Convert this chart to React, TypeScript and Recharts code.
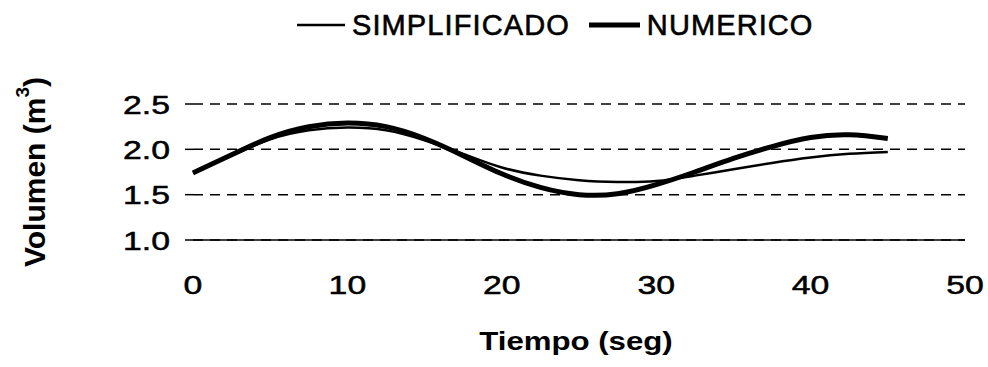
import { LineChart, Line, XAxis, YAxis, CartesianGrid, Legend, Label } from "recharts";

const tiempo = [0, 2.5, 5, 7.5, 10, 12.5, 15, 17.5, 20, 22.5, 25, 27.5, 30, 32.5, 35, 37.5, 40, 42.5, 45];
const simplificado = [1.74, 1.93, 2.11, 2.21, 2.24, 2.21, 2.1, 1.95, 1.8, 1.71, 1.66, 1.64, 1.65, 1.71, 1.78, 1.85, 1.91, 1.95, 1.97];
const numerico = [1.74, 1.94, 2.13, 2.25, 2.29, 2.25, 2.12, 1.93, 1.73, 1.58, 1.5, 1.51, 1.61, 1.75, 1.9, 2.03, 2.13, 2.16, 2.12];
const xTicks = [0, 10, 20, 30, 40, 50];
const yTicks = [1.0, 1.5, 2.0, 2.5];

const data = tiempo.map((t, i) => ({ t, simplificado: simplificado[i], numerico: numerico[i] }));

const FONT = "'Liberation Sans', Arial, sans-serif";

const XTick = ({ x, y, payload }: any) => (
  <g transform={`translate(${x},${y})`}>
    <text x={0} y={0} dy={54} textAnchor="middle" fontSize={26} fill="#000" stroke="#000" strokeWidth={0.5} fontFamily={FONT} transform="scale(1.3,1)">
      {payload.value}
    </text>
  </g>
);

const YTick = ({ x, y, payload }: any) => (
  <g transform={`translate(${x},${y})`}>
    <text x={0} y={0} dy={9.5} textAnchor="end" fontSize={26} fill="#000" stroke="#000" strokeWidth={0.5} fontFamily={FONT} transform="scale(1.3,1)">
      {Number(payload.value).toFixed(1)}
    </text>
  </g>
);

const LegendBox = () => (
  <div style={{ display: "flex", alignItems: "center", height: 50, paddingLeft: 297, fontFamily: FONT, fontSize: 29, letterSpacing: 1.1, color: "#000", lineHeight: "29px", WebkitTextStroke: "0.6px #000" }}>
    <svg width={48} height={10}><line x1={0} y1={5} x2={48} y2={5} stroke="#000" strokeWidth={2.5} /></svg>
    <span style={{ marginLeft: 7 }}>SIMPLIFICADO</span>
    <svg width={51} height={10} style={{ marginLeft: 19 }}><line x1={0} y1={5} x2={51} y2={5} stroke="#000" strokeWidth={5} /></svg>
    <span style={{ marginLeft: 7 }}>NUMERICO</span>
  </div>
);

const YTitle = ({ viewBox }: any) => {
  const cx = 34;
  const cy = viewBox.y + viewBox.height / 2;
  return (
    <text x={cx} y={cy} transform={`rotate(-90 ${cx} ${cy})`} textAnchor="middle" dominantBaseline="central" fontSize={30} fontWeight="bold" fontFamily={FONT} fill="#000">
      Volumen (m<tspan dy={-12} fontSize={19}>3</tspan><tspan dy={12}>)</tspan>
    </text>
  );
};

const XTitle = ({ viewBox }: any) => {
  const cx = viewBox.x + viewBox.width / 2 - 3;
  const by = viewBox.y + 110;
  return (
    <g transform={`translate(${cx},${by})`}>
      <text x={0} y={0} textAnchor="middle" fontSize={26} fontWeight="bold" fontFamily={FONT} fill="#000" transform="scale(1.2,1)">
        Tiempo (seg)
      </text>
    </g>
  );
};

export default function App() {
  return (
    <div style={{ position: "absolute", left: 0, top: 0, background: "#fff" }}>
      <LineChart width={988} height={367} data={data} margin={{ top: 104, right: 23, left: 0, bottom: 0 }}>
        <CartesianGrid horizontal vertical={false} stroke="#000" strokeWidth={1.5} strokeDasharray="10 7" />
        <XAxis
          dataKey="t"
          type="number"
          domain={[0, 50]}
          ticks={xTicks}
          height={127}
          tickSize={0}
          tickMargin={0}
          tickLine={false}
          axisLine={{ stroke: "#000", strokeWidth: 1.5 }}
          tick={<XTick />}
        >
          <Label content={<XTitle />} />
        </XAxis>
        <YAxis
          type="number"
          domain={[1, 2.5]}
          ticks={yTicks}
          width={193}
          tickSize={8}
          tickMargin={15}
          axisLine={false}
          tickLine={{ stroke: "#000", strokeWidth: 1.5 }}
          tick={<YTick />}
        >
          <Label content={<YTitle />} />
        </YAxis>
        <Legend verticalAlign="middle" align="center" wrapperStyle={{ top: 0, left: 0, width: 988, height: 50 }} content={<LegendBox />} />
        <Line type="natural" dataKey="simplificado" name="SIMPLIFICADO" stroke="#000" strokeWidth={2.5} dot={false} isAnimationActive={false} />
        <Line type="natural" dataKey="numerico" name="NUMERICO" stroke="#000" strokeWidth={5} dot={false} isAnimationActive={false} />
      </LineChart>
    </div>
  );
}
